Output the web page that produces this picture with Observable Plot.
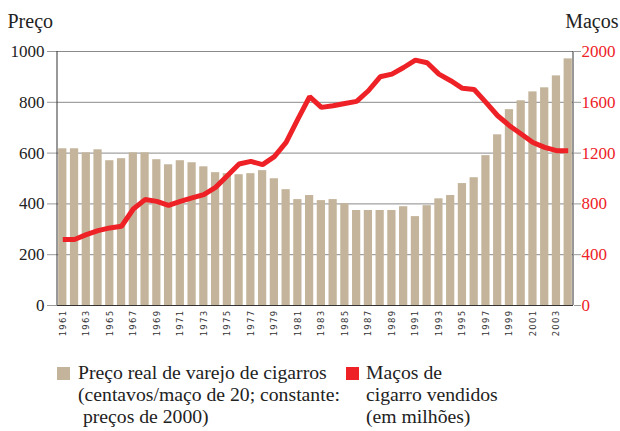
<!DOCTYPE html>
<html><head><meta charset="utf-8">
<script src="https://cdn.jsdelivr.net/npm/d3@7"></script>
<script src="https://cdn.jsdelivr.net/npm/@observablehq/plot@0.6"></script>
<style>
body{margin:0;background:#fff;font-family:"Liberation Serif",serif;}
#wrap{position:relative;width:620px;height:431px;}
#legend{position:absolute;top:361px;left:0;width:620px;font-family:"Liberation Serif",serif;font-size:19.7px;line-height:22px;color:#222;}
.item{position:absolute;top:0;}
.sw{position:absolute;width:13px;height:13px;top:6px;}
.txt{position:absolute;white-space:pre;}
</style></head><body>
<div id="wrap"><div id="chart"></div>
<div id="legend">
 <div class="item" style="left:57px"><div class="sw" style="background:#c4b49b;left:0"></div><div class="txt" style="left:21px">Preço real de varejo de cigarros
(centavos/maço de 20; constante:
 preços de 2000)</div></div>
 <div class="item" style="left:346px"><div class="sw" style="background:#ee2127;left:0"></div><div class="txt" style="left:20px">Maços de
cigarro vendidos
(em milhões)</div></div>
</div></div>
<script>
const years = d3.range(1961, 2005);
const price = [617,617,601,613,570,578,601,601,574,554,570,562,546,523,519,515,519,531,499,456,417,433,413,417,401,374,374,374,374,389,350,393,420,433,480,503,590,672,771,806,841,857,904,971];
const packs = [519,520,558,590,611,624,760,834,820,789,820,847,873,930,1022,1114,1135,1109,1172,1284,1468,1644,1560,1573,1591,1607,1691,1801,1822,1874,1932,1911,1822,1770,1710,1701,1599,1494,1416,1350,1284,1245,1219,1219];
const leftTicks = [0,200,400,600,800,1000];
const rightTicks = [0,400,800,1200,1600,2000];
const xLabels = years.filter(y => y % 2 === 1);

const bars = years.map((y,i) => ({year:y, price:price[i]}));
const line = years.map((y,i) => ({year:y, packs:packs[i]}));
const serif = "Liberation Serif";

const chart = Plot.plot({
  width:620, height:350,
  marginLeft:57, marginRight:47, marginTop:51, marginBottom:45,
  style:{fontFamily:serif, fontSize:"17px", color:"#222", background:"#fff", overflow:"visible"},
  x:{type:"band", domain:years, paddingInner:0.3, paddingOuter:0.1},
  y:{domain:[0,1000]},
  marks:[
    Plot.gridY(leftTicks, {stroke:"#8a8a8a", strokeOpacity:1, strokeWidth:1}),
    Plot.barY(bars, {x:"year", y:"price", fill:"#c4b49b"}),
    Plot.line(line, {x:"year", y:d => d.packs/2, stroke:"#ee2127", strokeWidth:5, strokeLinejoin:"miter", strokeLinecap:"butt"}),
    Plot.ruleY([0], {stroke:"#333"}),
    Plot.axisY({anchor:"left", ticks:leftTicks, tickSize:10, tickPadding:3, stroke:"#999", label:null, fontSize:17, fill:"#222", tickFormat:d => String(d)}),
    Plot.axisY({anchor:"right", ticks:leftTicks, tickSize:7, tickPadding:1, stroke:"#999", label:null, fontSize:17, fill:"#ee2127", tickFormat:(d,i) => String(rightTicks[i])}),
    Plot.axisX({ticks:xLabels, tickSize:0, tickRotate:-90, tickPadding:4, label:null, fontSize:8.5, fill:"#333", tickFormat:d => String(d)}),
    Plot.text(["Preço"], {frameAnchor:"top-left", dx:-50, dy:-24, textAnchor:"start", lineAnchor:"bottom", fontSize:20, fill:"#222"}),
    Plot.text(["Maços"], {frameAnchor:"top-right", dx:45, dy:-24, textAnchor:"end", lineAnchor:"bottom", fontSize:20, fill:"#222"})
  ]
});
document.getElementById("chart").append(chart);
const svg = d3.select(chart);
svg.append("line").attr("x1",57).attr("x2",57).attr("y1",51).attr("y2",305).attr("stroke","#333");
svg.append("line").attr("x1",573).attr("x2",573).attr("y1",51).attr("y2",305).attr("stroke","#333");
svg.selectAll("text").style("font-family", "'Liberation Serif', serif");
const xl = new Set(xLabels.map(String));
svg.selectAll("text").filter(function(){ return xl.has(this.textContent); })
  .style("font-family", "'DejaVu Sans', sans-serif").style("letter-spacing","1.3px");
</script></body></html>
